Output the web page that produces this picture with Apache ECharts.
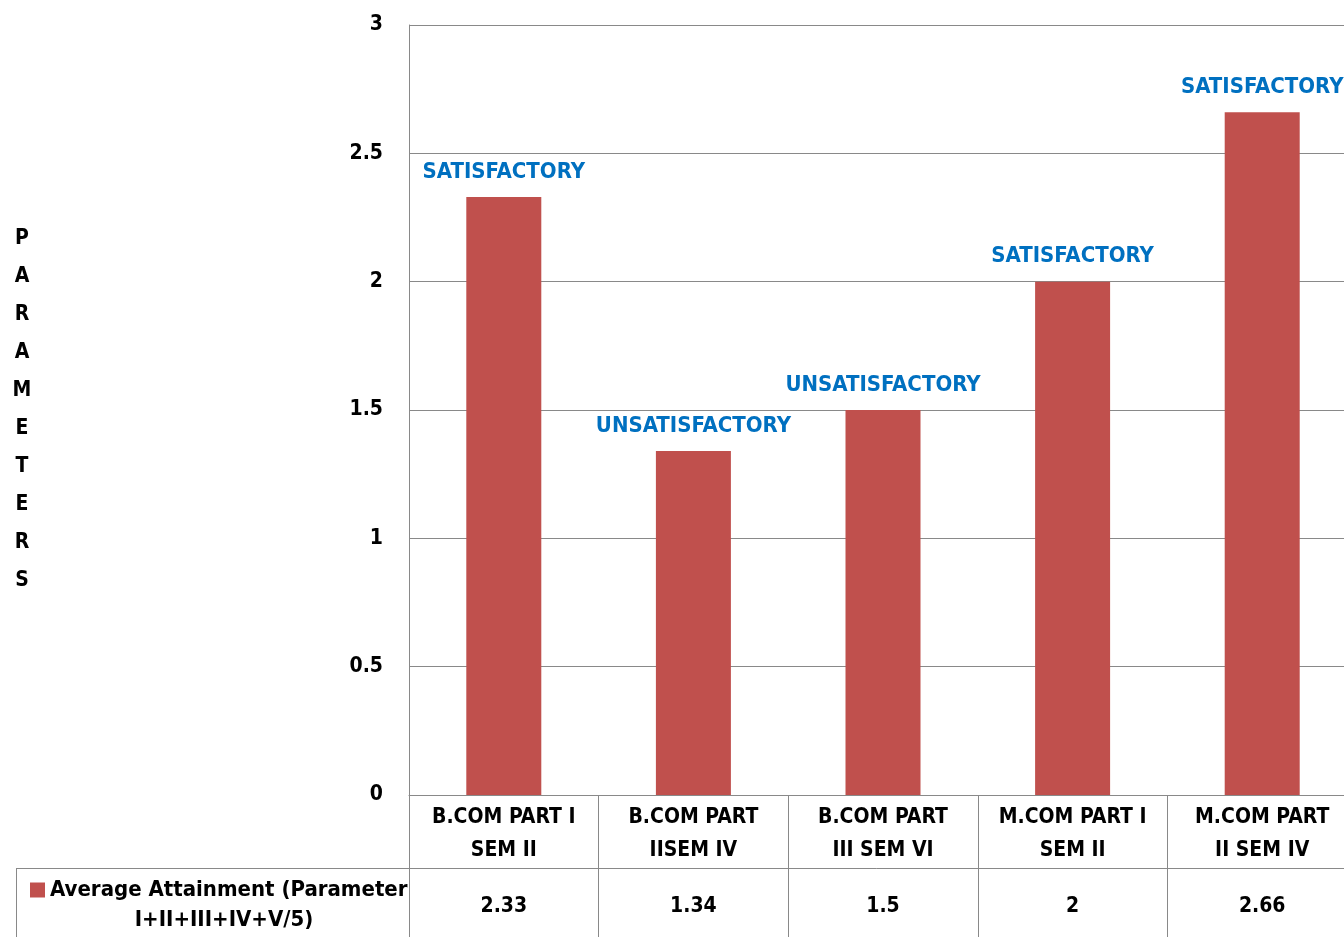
<!DOCTYPE html>
<html>
<head>
<meta charset="utf-8">
<script src="https://cdn.jsdelivr.net/npm/echarts@6/dist/echarts.min.js"></script>
<style>
html,body{margin:0;padding:0;background:#fff;}
#chart{width:1344px;height:937px;}
</style>
</head>
<body>
<div id="chart"></div>
<script>
const categories = ['B.COM PART I\nSEM II', 'B.COM PART\nIISEM IV', 'B.COM PART\nIII SEM VI', 'M.COM PART I\nSEM II', 'M.COM PART\nII SEM IV'];
const values = [2.33, 1.34, 1.5, 2, 2.66];
const valueLabels = ['2.33', '1.34', '1.5', '2', '2.66'];
const statusLabels = ['SATISFACTORY', 'UNSATISFACTORY', 'UNSATISFACTORY', 'SATISFACTORY', 'SATISFACTORY'];
const seriesName = 'Average Attainment (Parameter I+II+III+IV+V/5)';
const legendLine1 = 'Average Attainment (Parameter';
const legendLine2 = 'I+II+III+IV+V/5)';
const yAxisTitle = 'PARAMETERS';

const FONT = '"DejaVu Sans Condensed", "Liberation Sans", sans-serif';
const GRID = '#898989';

const chart = echarts.init(document.getElementById('chart'));
chart.setOption({
  animation: false,
  textStyle: { fontFamily: FONT },
  grid: { left: 409, width: 948, top: 25, bottom: 142, containLabel: false, outerBoundsMode: 'none' },
  legend: {
    left: 25, top: 874,
    itemWidth: 15, itemHeight: 15,
    itemGap: 6,
    icon: 'rect',
    data: [seriesName],
    formatter: () => legendLine1,
    textStyle: { fontFamily: FONT, fontWeight: 'bold', fontSize: 22, color: '#000' }
  },
  xAxis: [
    {
      type: 'category',
      data: categories,
      position: 'bottom',
      axisLine: { show: true, lineStyle: { color: GRID, width: 1 } },
      axisTick: { show: true, length: 73, interval: 0, lineStyle: { color: GRID, width: 1 } },
      axisLabel: { interval: 0, margin: 6, lineHeight: 33, fontFamily: FONT, fontWeight: 'bold', fontSize: 21, color: '#000' }
    },
    {
      type: 'category',
      data: valueLabels,
      position: 'bottom',
      offset: 73,
      axisLine: { show: true, lineStyle: { color: GRID, width: 1 } },
      axisTick: { show: true, length: 75, interval: 0, lineStyle: { color: GRID, width: 1 } },
      axisLabel: { interval: 0, margin: 28, fontFamily: FONT, fontWeight: 'bold', fontSize: 21, color: '#000' }
    }
  ],
  yAxis: {
    type: 'value',
    min: 0, max: 3, interval: 0.5,
    name: yAxisTitle.split('').join('\n'),
    nameLocation: 'middle',
    nameRotate: 0,
    nameGap: 387,
    nameTextStyle: { align: 'center', verticalAlign: 'middle', lineHeight: 38, padding: [8, 0, 0, 0], fontFamily: FONT, fontWeight: 'bold', fontSize: 21, color: '#000' },
    axisLine: { show: true, lineStyle: { color: GRID, width: 1 } },
    axisTick: { show: false },
    splitLine: { show: true, lineStyle: { color: GRID, width: 1 } },
    axisLabel: { margin: 26, padding: [5, 0, 0, 0], fontFamily: FONT, fontWeight: 'bold', fontSize: 21, color: '#000' }
  },
  series: [{
    name: seriesName,
    type: 'bar',
    data: values,
    barWidth: 75,
    itemStyle: { color: '#C0504D' },
    label: {
      show: true, position: 'top', distance: 14,
      formatter: p => statusLabels[p.dataIndex],
      fontFamily: FONT, fontWeight: 'bold', fontSize: 22, color: '#0070C0'
    }
  }],
  graphic: [
    { type: 'line', shape: { x1: 16, y1: 868.5, x2: 409, y2: 868.5 }, style: { stroke: GRID, lineWidth: 1 } },
    { type: 'line', shape: { x1: 16.5, y1: 868, x2: 16.5, y2: 937 }, style: { stroke: GRID, lineWidth: 1 } },
    { type: 'text', x: 224, y: 920, style: { text: legendLine2, x: 0, y: 0, align: 'center', verticalAlign: 'middle', font: 'bold 22px ' + FONT, fill: '#000' } }
  ]
});
</script>
</body>
</html>
